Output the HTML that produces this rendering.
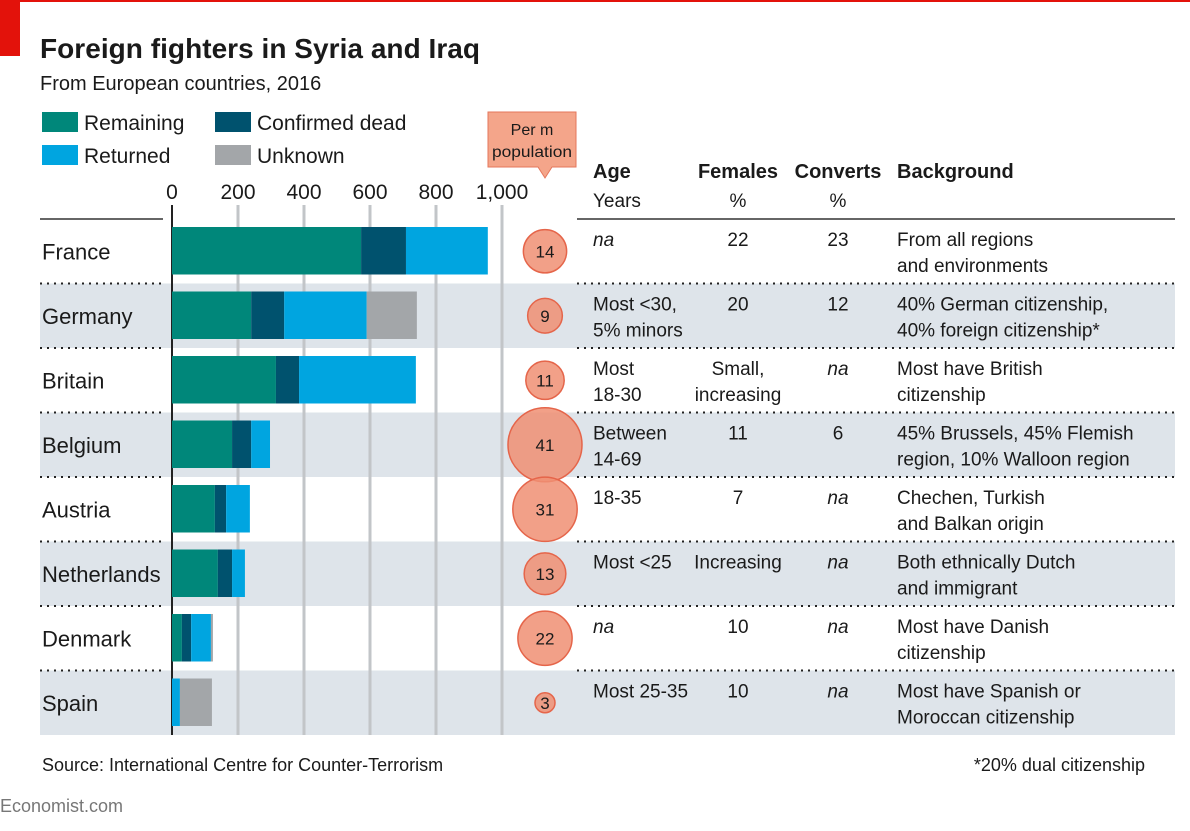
<!DOCTYPE html>
<html><head><meta charset="utf-8"><style>
body{margin:0;background:#fff;font-family:"Liberation Sans",sans-serif;}
svg text{font-family:"Liberation Sans",sans-serif;fill:#1a1a1a;}
</style></head><body>
<svg width="1190" height="826" viewBox="0 0 1190 826" id="c">
<rect x="0" y="0" width="1190" height="2" fill="#e3120b"/>
<rect x="0" y="0" width="20" height="56" fill="#e3120b"/>
<text x="40" y="58" font-size="28" font-weight="bold" textLength="440">Foreign fighters in Syria and Iraq</text>
<text x="40" y="90" font-size="20">From European countries, 2016</text>
<g font-size="21">
<rect x="42" y="112" width="36" height="20" fill="#00877a"/><text x="84" y="130">Remaining</text>
<rect x="215" y="112" width="36" height="20" fill="#00526e"/><text x="257" y="130">Confirmed dead</text>
<rect x="42" y="145" width="36" height="20" fill="#00a5e0"/><text x="84" y="163">Returned</text>
<rect x="215" y="145" width="36" height="20" fill="#a3a6a9"/><text x="257" y="163">Unknown</text>
</g>
<g>
<path d="M488 112 H576 V167 H552 L545 178 L538 167 H488 Z" fill="#f4a58a" stroke="#e5765b"/>
<text x="532" y="135" font-size="16" text-anchor="middle">Per m</text>
<text x="532" y="157" font-size="16" text-anchor="middle" textLength="80" lengthAdjust="spacingAndGlyphs">population</text>
</g>
<g id="rows"></g>
<g id="grid"></g>
<g id="bars"></g>
<g id="circles"></g>
<g id="table" font-size="19"></g>
<text x="42" y="771" font-size="18">Source: International Centre for Counter-Terrorism</text>
<text x="1145" y="771" font-size="18" text-anchor="end">*20% dual citizenship</text>
<text x="0" y="812" font-size="18" style="fill:#777">Economist.com</text>
</svg>
<script>
const countries=["France","Germany","Britain","Belgium","Austria","Netherlands","Denmark","Spain"];
const remaining=[573,240,315,182,130,139,30,0];
const dead=[136,100,70,58,34,43,28,0];
const returned=[248,250,354,57,72,39,60,24];
const unknown=[0,152,0,0,0,0,6,97];
const perM=[14,9,11,41,31,13,22,3];
const ticks=[0,200,400,600,800,1000];
const tickLabels=["0","200","400","600","800","1,000"];
const age=[["na"],["Most <30,","5% minors"],["Most","18-30"],["Between","14-69"],["18-35"],["Most <25"],["na"],["Most 25-35"]];
const females=[["22"],["20"],["Small,","increasing"],["11"],["7"],["Increasing"],["10"],["10"]];
const converts=[["23"],["12"],["na"],["6"],["na"],["na"],["na"],["na"]];
const background=[["From all regions","and environments"],["40% German citizenship,","40% foreign citizenship*"],["Most have British","citizenship"],["45% Brussels, 45% Flemish","region, 10% Walloon region"],["Chechen, Turkish","and Balkan origin"],["Both ethnically Dutch","and immigrant"],["Most have Danish","citizenship"],["Most have Spanish or","Moroccan citizenship"]];
const NS="http://www.w3.org/2000/svg";
const x0=172,kx=0.33,top0=219,rh=64.5;
const xs=v=>x0+v*kx, yr=i=>top0+i*rh;
function mk(tag,attrs,parent,txt){const e=document.createElementNS(NS,tag);for(const k in attrs)e.setAttribute(k,attrs[k]);if(txt!=null)e.textContent=txt;document.getElementById(parent).appendChild(e);return e;}
countries.forEach((c,i)=>{
 if(i%2===1){const r=mk('rect',{x:40,y:yr(i),width:1135,height:rh,fill:'#dee4ea'},'rows');
 
 }
 if(i>0){[[40,163],[577,1175]].forEach(s=>{const l=mk('line',{x1:s[0],x2:s[1],y1:yr(i),y2:yr(i),stroke:'#222','stroke-width':2,'stroke-dasharray':'2 5'},'rows');
 
 });}
 const t=mk('text',{x:42,y:yr(i)+rh/2+8,'font-size':22},'rows',c);
 
 
});
[[40,163],[577,1175]].forEach(s=>{const l=mk('line',{x1:s[0],x2:s[1],y1:top0,y2:top0,stroke:'#333','stroke-width':1.5},'rows');

});
ticks.forEach((t,i)=>{
 if(t>0){const g=mk('line',{x1:xs(t),x2:xs(t),y1:top0-14,y2:yr(8),stroke:'#c2c5c8','stroke-width':3},'grid');
 
 }
 const lb=mk('text',{x:xs(t),y:199,'font-size':21,'text-anchor':'middle'},'grid',tickLabels[i]);
 
 
});
const ax=mk('line',{x1:x0,x2:x0,y1:205,y2:yr(8),stroke:'#222','stroke-width':2},'grid');


const series=[[remaining,'#00877a','remaining'],[dead,'#00526e','dead'],[returned,'#00a5e0','returned'],[unknown,'#a3a6a9','unknown']];
countries.forEach((c,i)=>{let acc=0;
 series.forEach(s=>{const v=s[0][i];if(v>0){const b=mk('rect',{x:xs(acc),y:yr(i)+8,width:v*kx,height:rh-17,fill:s[1]},'bars');
 
 }acc+=v;});
});
perM.forEach((v,i)=>{const cy=yr(i)+rh/2;
 const ci=mk('circle',{cx:545,cy:cy,r:5.78*Math.sqrt(v),fill:'#f08f73','fill-opacity':0.85,stroke:'#e5654a','stroke-width':1.5},'circles');
 
 
 const t=mk('text',{x:545,y:cy+6,'font-size':17,'text-anchor':'middle'},'circles',String(v));
 
 
});
[[593,'Age','start'],[738,'Females','middle'],[838,'Converts','middle'],[897,'Background','start']].forEach(h=>{
 const t=mk('text',{x:h[0],y:178,'font-size':20,'font-weight':'bold','text-anchor':h[2]},'table',h[1]);
 
 });
[[593,'Years','start'],[738,'%','middle'],[838,'%','middle']].forEach(h=>{
 const t=mk('text',{x:h[0],y:207,'font-size':19,'text-anchor':h[2]},'table',h[1]);
 
 });
function cell(lines,x,anchor,i,name){lines.forEach((s,k)=>{
 const a={x:x,y:yr(i)+27+k*26,'text-anchor':anchor};if(s==='na')a['font-style']='italic';
 const t=mk('text',a,'table',s);
 
 });}
countries.forEach((c,i)=>{cell(age[i],593,'start',i,'age-cell');cell(females[i],738,'middle',i,'females-cell');cell(converts[i],838,'middle',i,'converts-cell');cell(background[i],897,'start',i,'background-cell');});
</script>
</body></html>
